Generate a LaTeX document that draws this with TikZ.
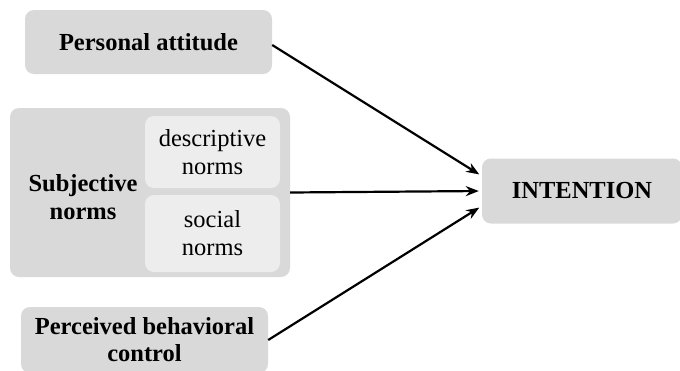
\documentclass[tikz,border=0pt]{standalone}
\usepackage{fontspec}
\setmainfont{Liberation Serif}
\usepackage{tikz}
\usetikzlibrary{arrows.meta}
\definecolor{boxgray}{RGB}{217,217,217}
\definecolor{innergray}{RGB}{237,237,237}
\tikzset{box/.style={fill=boxgray,rounded corners=9pt,inner sep=0pt,align=center,
                     font=\fontsize{24.5}{27}\selectfont\bfseries},
         subbox/.style={fill=innergray,rounded corners=9pt,inner sep=0pt,align=center,
                     font=\fontsize{24.5}{28}\selectfont},
         link/.style={line width=2.2pt,-{Stealth[length=13pt,width=10pt]},shorten >=3pt}}

\begin{document}
\begin{tikzpicture}[x=1pt,y=-1pt]
\clip (0,0) rectangle (680,370);
\fill[white] (0,0) rectangle (680,370);
% left column
\node[box,minimum width=247pt,minimum height=64pt] (att) at (148.5,42) {Personal attitude};
\node[box,minimum width=280pt,minimum height=169pt] (subj) at (150,192.5) {};
\node[subbox,minimum width=135pt,minimum height=72pt] (desc) at (212.5,152) {descriptive\\norms};
\node[subbox,minimum width=135pt,minimum height=77pt] (soc) at (212.5,233.5) {social\\norms};
\node[font=\fontsize{24.5}{28}\selectfont\bfseries,align=center] (subjtext) at (83,197) {Subjective\\norms};
\node[box,minimum width=247pt,minimum height=66pt] (pbc) at (144.5,340) {Perceived behavioral\\control};
% outcome
\node[box,minimum width=200pt,minimum height=65pt] (int) at (582,191) {INTENTION};
% arrows
\draw[link] ([yshift=-3pt]att.east) -- ([yshift=15pt]int.west);
\draw[link] (subj.east) -- (int.west);
\draw[link] (pbc.east) -- ([yshift=-15pt]int.west);
\end{tikzpicture}
\end{document}
